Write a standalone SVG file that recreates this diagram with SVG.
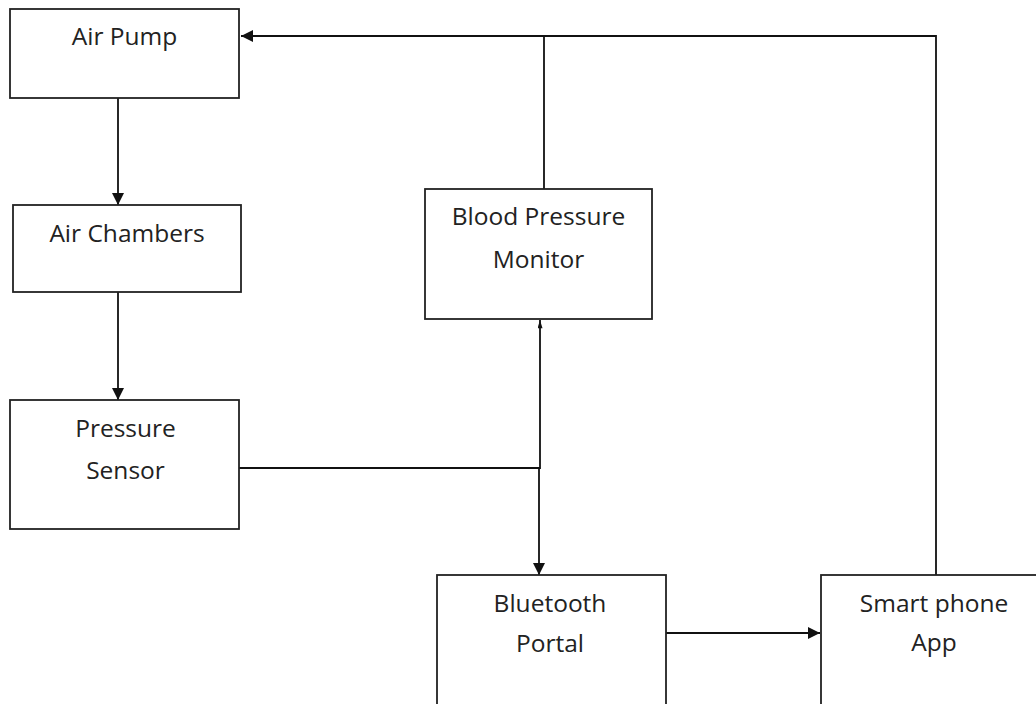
<svg xmlns="http://www.w3.org/2000/svg" width="1036" height="704" viewBox="0 0 1036 704">
<style>
.box{fill:#fff;stroke:#222;stroke-width:1.8}
.lbl{font-family:"Open Sans","Liberation Sans",sans-serif;font-size:24.5px;fill:#222;text-anchor:middle}
.ln{fill:none;stroke:#111;stroke-width:1.8}
</style>
<defs>
<marker id="ah" viewBox="0 0 12 12" refX="12" refY="6" markerWidth="12" markerHeight="12" markerUnits="userSpaceOnUse" orient="auto">
<path d="M0,0 L12,6 L0,12 z" fill="#111"/>
</marker>
<marker id="ahs" viewBox="0 0 10 6" refX="10" refY="3" markerWidth="9" markerHeight="5" markerUnits="userSpaceOnUse" orient="auto">
<path d="M0,0 L10,3 L0,6 z" fill="#111"/>
</marker>
</defs>
<rect width="1036" height="704" fill="#fff"/>
<g id="connectors">
<path class="ln" d="M118,97 V205" marker-end="url(#ah)"/>
<path class="ln" d="M118,292 V400" marker-end="url(#ah)"/>
<path class="ln" d="M238,468 H540 V320" marker-end="url(#ahs)"/>
<path class="ln" d="M539,468 V575" marker-end="url(#ah)"/>
<path class="ln" d="M662,633 H820" marker-end="url(#ah)"/>
<path class="ln" d="M936,575 V36 H241" marker-end="url(#ah)"/>
<path class="ln" d="M544,189 V36"/>
</g>
<g id="air-pump">
<rect class="box" x="10" y="9" width="229" height="89"/>
<text class="lbl" x="124.5" y="45">Air Pump</text>
</g>
<g id="air-chambers">
<rect class="box" x="13" y="205" width="228" height="87"/>
<text class="lbl" x="127" y="242">Air Chambers</text>
</g>
<g id="pressure-sensor">
<rect class="box" x="10" y="400" width="229" height="129"/>
<text class="lbl" x="125.5" y="437">Pressure</text>
<text class="lbl" x="125.5" y="479">Sensor</text>
</g>
<g id="blood-pressure-monitor">
<rect class="box" x="425" y="189" width="227" height="130"/>
<text class="lbl" x="538.5" y="225">Blood Pressure</text>
<text class="lbl" x="538.5" y="268">Monitor</text>
</g>
<g id="bluetooth-portal">
<rect class="box" x="437" y="575" width="229" height="140"/>
<text class="lbl" x="550" y="612">Bluetooth</text>
<text class="lbl" x="550" y="652">Portal</text>
</g>
<g id="smart-phone-app">
<rect class="box" x="821" y="575" width="240" height="140"/>
<text class="lbl" x="934" y="612">Smart phone</text>
<text class="lbl" x="934" y="651">App</text>
</g>
</svg>
